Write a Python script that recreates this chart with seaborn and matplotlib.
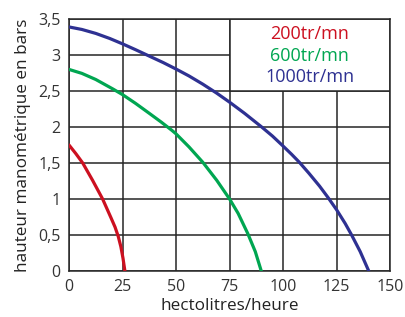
import matplotlib
matplotlib.use("Agg")
import matplotlib.pyplot as plt
from matplotlib.patches import Rectangle
import pandas as pd
import seaborn as sns

# Pump curves (debit in hl/h, pressure in bars)
speeds = ["200tr/mn", "600tr/mn", "1000tr/mn"]
colors = ["#cc1020", "#00a651", "#2e3192"]

red_x = [0, 3.2, 6.4, 11, 15.7, 19.6, 21.5, 23, 24.2, 25.2, 26.1]
red_y = [1.75, 1.63, 1.5, 1.26, 1.0, 0.74, 0.61, 0.48, 0.34, 0.18, 0]
green_x = [0, 6, 12.5, 20.4, 25, 31, 37.5, 43, 48, 50, 56, 62.5, 69, 75, 79, 83.5, 87, 89.8]
green_y = [2.80, 2.745, 2.66, 2.53, 2.45, 2.33, 2.19, 2.07, 1.955, 1.905, 1.725, 1.51, 1.26,
           1.00, 0.80, 0.52, 0.27, 0]
blue_x = [0, 6, 12.5, 19, 25, 31, 37.5, 44, 50, 56, 62.5, 69, 75, 82, 90, 95, 100, 104,
          107.6, 112, 117, 121, 125, 129, 132, 136, 140]
blue_y = [3.39, 3.355, 3.30, 3.23, 3.155, 3.075, 2.985, 2.895, 2.805, 2.71, 2.595, 2.47,
          2.345, 2.19, 2.00, 1.875, 1.735, 1.62, 1.51, 1.36, 1.18, 1.02, 0.85, 0.66,
          0.50, 0.27, 0]

x_ticks = [0, 25, 50, 75, 100, 125, 150]
y_ticks = [0, 0.5, 1, 1.5, 2, 2.5, 3, 3.5]
y_tick_labels = ["0", "0,5", "1", "1,5", "2", "2,5", "3", "3,5"]

frames = []
for name, xs, ys in zip(speeds, [red_x, green_x, blue_x], [red_y, green_y, blue_y]):
    frames.append(pd.DataFrame({"debit": xs, "pression": ys, "vitesse": name}))
df = pd.concat(frames, ignore_index=True)

sns.set_style("white")
plt.rcParams["font.family"] = ["Open Sans", "DejaVu Sans"]

fig = plt.figure(figsize=(4.06, 3.17), dpi=100)
ax = fig.add_axes([0.170, 0.145, 0.791, 0.795])

sns.lineplot(data=df, x="debit", y="pression", hue="vitesse", palette=colors,
             sort=False, estimator=None, linewidth=2.3, legend=False, ax=ax, zorder=3)

ax.set_xlim(0, 150)
ax.set_ylim(0, 3.5)
ax.set_xticks(x_ticks)
ax.set_xticklabels([str(t) for t in x_ticks])
ax.set_yticks(y_ticks)
ax.set_yticklabels(y_tick_labels)
ax.set_axisbelow(True)
ax.grid(True, color="#262626", linewidth=1.1)
for s in ax.spines.values():
    s.set_color("#262626")
    s.set_linewidth(1.1)
ax.tick_params(length=0, pad=6, labelsize=11.5, colors="#333333")

ax.set_xlabel("hectolitres/heure", fontsize=12.3, color="#222222", labelpad=2)
ax.set_ylabel("hauteur manométrique en bars", fontsize=12.3, color="#222222", labelpad=5)

# white legend box covering the top right grid cells
ax.add_patch(Rectangle((75, 2.5), 75, 1.0, facecolor="white", edgecolor="#262626",
                       linewidth=1.1, zorder=1))
for name, col, ty in zip(speeds, colors, [3.222, 2.917, 2.625]):
    ax.text(112.5, ty, name, color=col, fontsize=13, ha="center", va="baseline", zorder=4)

fig.savefig("out.png", dpi=100)
